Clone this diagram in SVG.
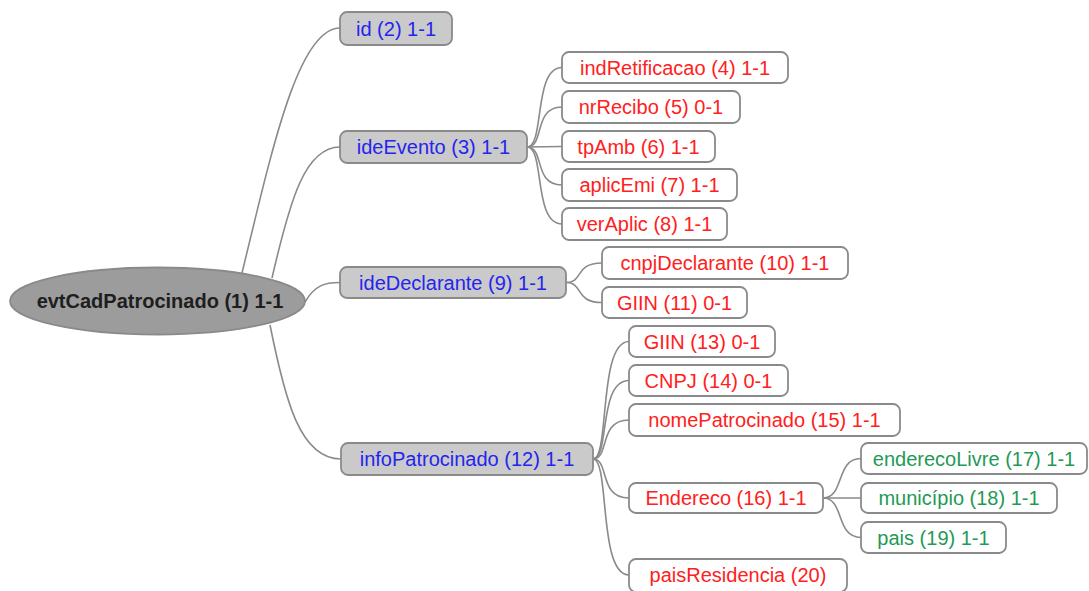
<svg xmlns="http://www.w3.org/2000/svg" width="1089" height="591" viewBox="0 0 1089 591">
<style>
.c{fill:none;stroke:#8a8a8a;stroke-width:1.6}
.g rect{fill:#cacaca;stroke:#8a8a8a;stroke-width:1.8}
.w rect{fill:#ffffff;stroke:#8a8a8a;stroke-width:1.8}
text{font-family:"Liberation Sans",Arial,sans-serif;font-size:20px;text-anchor:middle}
.g text{fill:#2424f0}
.r text{fill:#ff2020}
.e text{fill:#1f9a55}
</style>
<rect width="1089" height="591" fill="#ffffff"/>
<g id="connectors">
<path class="c" d="M242,273 C272,150 298,28 340,28"/>
<path class="c" d="M272,278 C290,200 305,147 340,147"/>
<path class="c" d="M305,302 C315,285 325,282.5 340,282.5"/>
<path class="c" d="M270,325 C285,400 300,459 341,459"/>
<path class="c" d="M527,147 C545,147 533,67.5 562,67.5"/>
<path class="c" d="M527,147 C545,147 533,107 562,107"/>
<path class="c" d="M527,147 L562,146.5"/>
<path class="c" d="M527,147 C545,147 533,185 562,185"/>
<path class="c" d="M527,147 C545,147 533,224 562,224"/>
<path class="c" d="M566,282.5 C584,282.5 574,263 602,263"/>
<path class="c" d="M566,282.5 C584,282.5 574,302.5 602,302.5"/>
<path class="c" d="M593,459 C610,459 598,341.5 629,341.5"/>
<path class="c" d="M593,459 C610,459 598,380.5 629,380.5"/>
<path class="c" d="M593,459 C610,459 598,420 629,420"/>
<path class="c" d="M593,459 C610,459 598,498 629,498"/>
<path class="c" d="M593,459 C610,459 598,575 629,575"/>
<path class="c" d="M823,498 C845,498 835,458.5 861,458.5"/>
<path class="c" d="M823,498 L861,498"/>
<path class="c" d="M823,498 C845,498 835,537.5 861,537.5"/>
</g>
<g id="root">
<ellipse cx="157.5" cy="301" rx="147.5" ry="33.5" fill="#9c9c9c" stroke="#8a8a8a" stroke-width="1.8"/>
<text x="160" y="308" font-weight="bold" fill="#1e1e1e">evtCadPatrocinado (1) 1-1</text>
</g>
<g id="n2" class="g"><rect x="340" y="12" width="112" height="33" rx="7"/><text x="396" y="35.5">id (2) 1-1</text></g>
<g id="n3" class="g"><rect x="340" y="131" width="187" height="32" rx="7"/><text x="433.5" y="154">ideEvento (3) 1-1</text></g>
<g id="n9" class="g"><rect x="340" y="267" width="226" height="31" rx="7"/><text x="453" y="289.5">ideDeclarante (9) 1-1</text></g>
<g id="n12" class="g"><rect x="341" y="443" width="252" height="32" rx="7"/><text x="467" y="466">infoPatrocinado (12) 1-1</text></g>
<g id="n4" class="w r"><rect x="562" y="52" width="226" height="31" rx="7"/><text x="675" y="74.5">indRetificacao (4) 1-1</text></g>
<g id="n5" class="w r"><rect x="562" y="91" width="178" height="32" rx="7"/><text x="651" y="114">nrRecibo (5) 0-1</text></g>
<g id="n6" class="w r"><rect x="562" y="131" width="153" height="31" rx="7"/><text x="638.5" y="153.5">tpAmb (6) 1-1</text></g>
<g id="n7" class="w r"><rect x="562" y="169" width="175" height="32" rx="7"/><text x="649.5" y="192">aplicEmi (7) 1-1</text></g>
<g id="n8" class="w r"><rect x="562" y="208" width="165" height="32" rx="7"/><text x="644.5" y="231">verAplic (8) 1-1</text></g>
<g id="n10" class="w r"><rect x="602" y="247" width="246" height="32" rx="7"/><text x="725" y="270">cnpjDeclarante (10) 1-1</text></g>
<g id="n11" class="w r"><rect x="602" y="287" width="145" height="31" rx="7"/><text x="674.5" y="309.5">GIIN (11) 0-1</text></g>
<g id="n13" class="w r"><rect x="629" y="326" width="146" height="31" rx="7"/><text x="702" y="348.5">GIIN (13) 0-1</text></g>
<g id="n14" class="w r"><rect x="629" y="365" width="159" height="31" rx="7"/><text x="708.5" y="387.5">CNPJ (14) 0-1</text></g>
<g id="n15" class="w r"><rect x="629" y="404" width="271" height="32" rx="7"/><text x="764.5" y="427">nomePatrocinado (15) 1-1</text></g>
<g id="n16" class="w r"><rect x="629" y="483" width="194" height="30" rx="7"/><text x="726" y="505">Endereco (16) 1-1</text></g>
<g id="n20" class="w r"><rect x="629" y="559" width="218" height="33" rx="7"/><text x="738" y="582">paisResidencia (20)</text></g>
<g id="n17" class="w e"><rect x="861" y="443" width="226" height="31" rx="7"/><text x="974" y="465.5">enderecoLivre (17) 1-1</text></g>
<g id="n18" class="w e"><rect x="861" y="483" width="196" height="30" rx="7"/><text x="959" y="505">município (18) 1-1</text></g>
<g id="n19" class="w e"><rect x="861" y="522" width="145" height="31" rx="7"/><text x="933.5" y="544.5">pais (19) 1-1</text></g>
</svg>
